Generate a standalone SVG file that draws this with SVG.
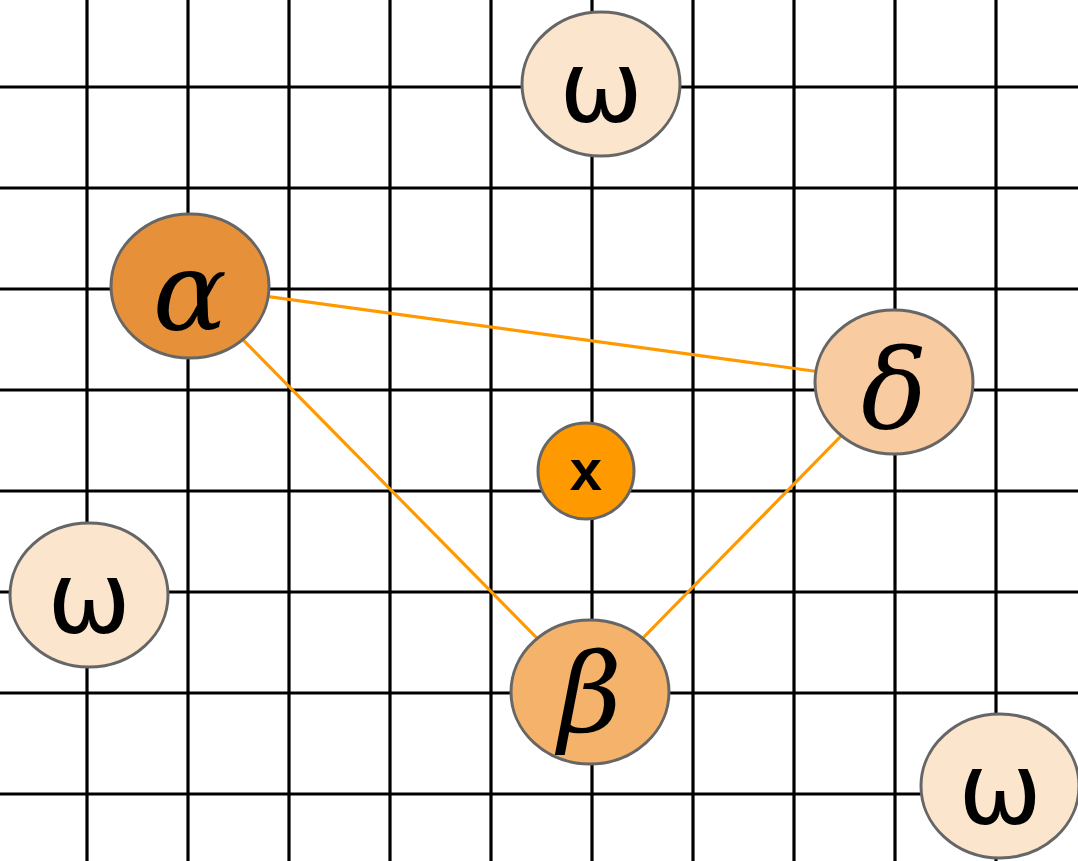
<svg xmlns="http://www.w3.org/2000/svg" width="1078" height="861" viewBox="0 0 1078 861">
<style>
.grid line{stroke:#000;stroke-width:3.2}
.edge{stroke:#FF9900;stroke-width:3.2;fill:none}
.node ellipse{stroke:#666;stroke-width:3}
</style>
<rect width="1078" height="861" fill="#fff"/>
<g class="grid">
<line x1="87" y1="0" x2="87" y2="861"/><line x1="188" y1="0" x2="188" y2="861"/><line x1="289" y1="0" x2="289" y2="861"/><line x1="390" y1="0" x2="390" y2="861"/><line x1="491" y1="0" x2="491" y2="861"/><line x1="592" y1="0" x2="592" y2="861"/><line x1="693" y1="0" x2="693" y2="861"/><line x1="794" y1="0" x2="794" y2="861"/><line x1="895" y1="0" x2="895" y2="861"/><line x1="996" y1="0" x2="996" y2="861"/>
<line x1="0" y1="87" x2="1078" y2="87"/><line x1="0" y1="188" x2="1078" y2="188"/><line x1="0" y1="289" x2="1078" y2="289"/><line x1="0" y1="390" x2="1078" y2="390"/><line x1="0" y1="491" x2="1078" y2="491"/><line x1="0" y1="592" x2="1078" y2="592"/><line x1="0" y1="693" x2="1078" y2="693"/><line x1="0" y1="794" x2="1078" y2="794"/>
</g>
<g id="connectors">
<line class="edge" x1="190" y1="286" x2="894" y2="382"/>
<line class="edge" x1="190" y1="286" x2="590" y2="692"/>
<line class="edge" x1="894" y1="382" x2="590" y2="692"/>
</g>
<g id="omega-top" class="node"><ellipse cx="601" cy="84" rx="79" ry="72" fill="#FCE5CD"/><text x="601" y="122" text-anchor="middle" font-family="DejaVu Sans, sans-serif" font-size="100">ω</text></g>
<g id="alpha" class="node"><ellipse cx="190" cy="286" rx="79" ry="72" fill="#E6913A"/><text x="190" y="330" text-anchor="middle" font-family="DejaVu Serif, serif" font-style="italic" font-size="110">α</text></g>
<g id="delta" class="node"><ellipse cx="894" cy="382" rx="79" ry="72" fill="#F8CBA0"/><text x="894" y="428" text-anchor="middle" font-family="DejaVu Serif, serif" font-style="italic" font-size="110">δ</text></g>
<g id="x" class="node"><ellipse cx="586" cy="471" rx="48" ry="48" fill="#FF9900"/><text x="586" y="490" text-anchor="middle" font-family="Liberation Sans, Arial, sans-serif" font-weight="bold" font-size="58">x</text></g>
<g id="beta" class="node"><ellipse cx="590" cy="692" rx="79" ry="72" fill="#F4B26B"/><text x="590" y="732" text-anchor="middle" font-family="DejaVu Serif, serif" font-style="italic" font-size="110">β</text></g>
<g id="omega-left" class="node"><ellipse cx="89" cy="595" rx="79" ry="72" fill="#FCE5CD"/><text x="89" y="633" text-anchor="middle" font-family="DejaVu Sans, sans-serif" font-size="100">ω</text></g>
<g id="omega-br" class="node"><ellipse cx="1000" cy="786" rx="79" ry="72" fill="#FCE5CD"/><text x="1000" y="824" text-anchor="middle" font-family="DejaVu Sans, sans-serif" font-size="100">ω</text></g>
</svg>
